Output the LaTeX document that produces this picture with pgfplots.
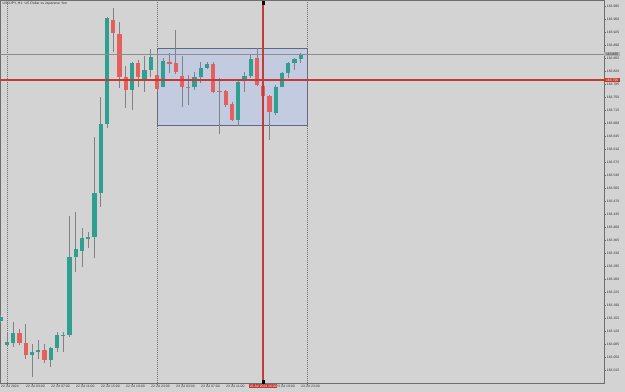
\documentclass[border=0pt]{standalone}
\usepackage{fontspec}
\setmainfont{Liberation Sans}
\usepackage{pgfplots}
\usepackage{pgfplotstable}
\pgfplotsset{compat=1.18}
\definecolor{bg}{HTML}{D3D3D3}
\definecolor{framegray}{HTML}{6E6E6E}
\definecolor{wick}{HTML}{828282}
\definecolor{upc}{HTML}{2E9F91}
\definecolor{dnc}{HTML}{E65F5B}
\definecolor{boxfill}{HTML}{C2CBE0}
\definecolor{boxline}{HTML}{5E6884}
\definecolor{redline}{HTML}{C43A35}
\definecolor{hgray}{HTML}{8C8C8C}
\definecolor{txt}{HTML}{303030}

\pgfplotstableread{
i o h l c
-1 163.147 163.163 163.142 163.158
0 163.082 163.118 163.078 163.091
1 163.087 163.145 163.078 163.114
4 163.055 163.085 162.995 163.064
5 163.064 163.096 163.044 163.069
7 163.042 163.078 163.024 163.074
8 163.074 163.116 163.064 163.109
9 163.108 163.116 163.064 163.110
10 163.109 163.430 163.105 163.319
11 163.319 163.441 163.280 163.340
12 163.336 163.397 163.293 163.370
13 163.368 163.386 163.343 163.372
14 163.372 163.643 163.316 163.491
15 163.491 163.751 163.455 163.677
16 163.677 163.966 163.666 163.962
20 163.769 163.845 163.715 163.841
22 163.794 163.860 163.764 163.823
23 163.823 163.879 163.803 163.859
25 163.778 163.854 163.776 163.847
30 163.776 163.818 163.769 163.803
31 163.803 163.845 163.787 163.827
32 163.829 163.845 163.825 163.839
37 163.688 163.796 163.672 163.791
38 163.793 163.818 163.764 163.807
39 163.807 163.863 163.800 163.852
43 163.708 163.782 163.702 163.778
44 163.778 163.816 163.776 163.814
45 163.814 163.845 163.800 163.842
46 163.841 163.854 163.823 163.852
47 163.852 163.868 163.841 163.863
}\upT

\pgfplotstableread{
i o h l c
2 163.114 163.125 163.082 163.087
3 163.087 163.139 163.044 163.055
6 163.069 163.085 163.033 163.042
17 163.957 163.989 163.872 163.922
18 163.919 163.953 163.774 163.805
19 163.803 163.834 163.720 163.769
21 163.841 163.850 163.776 163.805
24 163.809 163.875 163.764 163.771
26 163.844 163.869 163.814 163.840
27 163.841 163.930 163.811 163.816
28 163.807 163.861 163.722 163.778
29 163.777 163.809 163.729 163.775
33 163.839 163.845 163.760 163.764
34 163.767 163.800 163.650 163.765
35 163.766 163.769 163.724 163.729
36 163.730 163.737 163.686 163.688
40 163.854 163.881 163.780 163.782
41 163.780 163.782 163.751 163.753
42 163.754 163.755 163.634 163.709
}\dnT

\begin{document}
\begin{tikzpicture}
\path[use as bounding box, fill=bg] (0,0) rectangle (625bp,392bp);
\begin{axis}[
  at={(0,9bp)}, anchor=south west,
  scale only axis, width=604bp, height=383bp,
  xmin=-1.12, xmax=95.52, ymin=162.98, ymax=164.0112,
  clip mode=individual,
  axis background/.style={fill=bg},
  axis line style={draw=framegray, line width=0.8bp},
  xtick pos=bottom, ytick pos=right, yticklabel pos=right,
  tick align=outside, major tick length=2bp,
  tick style={draw=framegray, line width=0.4bp},
  tick label style={font=\fontsize{3.4}{4}\selectfont, text=txt},
  scaled y ticks=false,
  ytick={163.015,163.050,163.085,163.120,163.155,163.190,163.225,163.260,163.295,163.330,163.365,163.400,163.435,163.470,163.505,163.540,163.575,163.610,163.645,163.680,163.715,163.750,163.785,163.820,163.855,163.890,163.925,163.960,163.995},
  yticklabel style={anchor=west, inner sep=0pt, xshift=0.7bp,
    /pgf/number format/.cd, fixed, fixed zerofill, precision=3, assume math mode=true},
  xtick={0,4,8,12,16,20,24,28,32,36,40,44,48},
  xticklabels={22 Jul 2024, 22 Jul 03:00, 22 Jul 07:00, 22 Jul 11:00, 22 Jul 15:00, 22 Jul 19:00, 22 Jul 23:00, 23 Jul 03:00, 23 Jul 07:00, 23 Jul 11:00, {}, 23 Jul 19:00, 23 Jul 23:00},
  xticklabel style={anchor=north west, inner sep=0pt, xshift=-6bp, yshift=0.5bp},
]
% rectangle object
\addplot[draw=boxline, line width=0.7bp, fill=boxfill, forget plot]
  coordinates {(24,163.8812) (48,163.8812) (48,163.6728) (24,163.6728) (24,163.8812)};
% day separators
\addplot[draw=framegray, line width=0.6bp, dash pattern=on 0.8bp off 1.2bp, forget plot] coordinates {(0,162.98) (0,164.0112)};
\addplot[draw=framegray, line width=0.6bp, dash pattern=on 0.8bp off 1.2bp, forget plot] coordinates {(24,162.98) (24,164.0112)};
\addplot[draw=framegray, line width=0.6bp, dash pattern=on 0.8bp off 1.2bp, forget plot] coordinates {(48,162.98) (48,164.0112)};
% wicks
\addplot[draw=none, mark=none, forget plot,
  error bars/.cd, y dir=plus, y explicit, error mark=none,
  error bar style={line width=0.9bp, draw=wick, solid}]
  table[x=i, y=l, y error plus expr=\thisrow{h}-\thisrow{l}] {\upT};
\addplot[draw=none, mark=none, forget plot,
  error bars/.cd, y dir=plus, y explicit, error mark=none,
  error bar style={line width=0.9bp, draw=wick, solid}]
  table[x=i, y=l, y error plus expr=\thisrow{h}-\thisrow{l}] {\dnT};
% bodies
\addplot[draw=none, mark=none, forget plot,
  error bars/.cd, y dir=plus, y explicit, error mark=none,
  error bar style={line width=4.4bp, draw=upc, solid}]
  table[x=i, y=o, y error plus expr=\thisrow{c}-\thisrow{o}] {\upT};
\addplot[draw=none, mark=none, forget plot,
  error bars/.cd, y dir=plus, y explicit, error mark=none,
  error bar style={line width=4.4bp, draw=dnc, solid}]
  table[x=i, y=c, y error plus expr=\thisrow{o}-\thisrow{c}] {\dnT};
% horizontal lines
\addplot[draw=hgray, line width=0.8bp, forget plot] coordinates {(-1.12,163.865) (95.52,163.865)};
\addplot[draw=redline, line width=1.8bp, forget plot] coordinates {(-1.12,163.795) (95.52,163.795)};
% vertical line
\addplot[draw=redline, line width=1.8bp, forget plot] coordinates {(41,162.98) (41,164.0112)};
\addplot[only marks, mark=square*, mark size=1.4bp, black, forget plot] coordinates {(41,164.003) (41,162.984)};
% title
\node[anchor=north west, inner sep=0pt, font=\fontsize{3.5}{4}\selectfont, text=txt]
  at (rel axis cs:0,1) [xshift=2.5bp, yshift=-2bp] {USDJPY, H1: US Dollar vs Japanese Yen};
% price labels
\node[anchor=west, fill=hgray!70, inner sep=0.6bp, minimum width=16bp, font=\fontsize{3.4}{4}\selectfont, text=txt]
  at (axis cs:95.52,163.865) {163.865};
\node[anchor=west, fill=redline, inner sep=0.6bp, minimum width=16bp, font=\fontsize{3.4}{4}\selectfont, text=white]
  at (axis cs:95.52,163.795) {163.795};
\node[anchor=north, fill=redline, inner sep=0.7bp, font=\fontsize{3.4}{4}\selectfont, text=white]
  at (axis cs:41,162.98) [yshift=-1bp] {23 Jul 2024 16:00};
\end{axis}
\end{tikzpicture}
\end{document}
